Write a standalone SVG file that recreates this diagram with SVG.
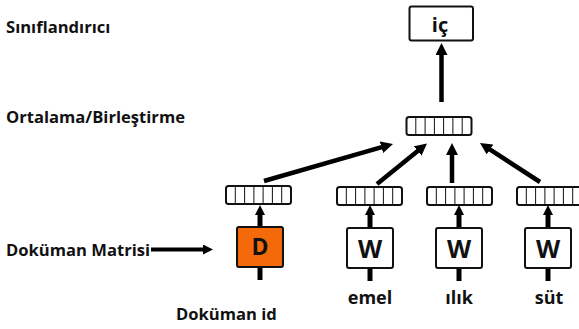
<svg xmlns="http://www.w3.org/2000/svg" xmlns:xlink="http://www.w3.org/1999/xlink" width="579" height="329" viewBox="0 0 579 329">
  <style>
    text { font-family: "Open Sans", "Noto Sans", "DejaVu Sans", sans-serif; font-weight: 700; fill: #111; }
    .label { font-size: 16.6px; }
    .word { font-size: 18px; text-anchor: middle; }
    .glyph { text-anchor: middle; }
    .box { fill: #fff; stroke: #111; stroke-width: 2; }
    .doc { fill: #f46a0a; }
    .cellframe { fill: #fff; stroke: #111; stroke-width: 2; }
    .cells { fill: none; stroke: #111; stroke-width: 1; }
    .arrow { fill: none; stroke: #000; stroke-width: 4.5; }
    .stub { fill: none; stroke: #000; stroke-width: 5; }
    .thin { fill: none; stroke: #000; stroke-width: 4; }
  </style>
  <defs>
    <marker id="head" markerUnits="userSpaceOnUse" markerWidth="12" markerHeight="12" refX="4" refY="6" orient="auto">
      <path d="M0,0 L12,6 L0,12 z" fill="#000"/>
    </marker>
    <marker id="headSmall" markerUnits="userSpaceOnUse" markerWidth="10" markerHeight="10" refX="3" refY="5" orient="auto">
      <path d="M0,0 L10,5 L0,10 z" fill="#000"/>
    </marker>
    <!-- seven-cell embedding vector -->
    <g id="vec">
      <rect class="cellframe" x="0" y="0" width="65" height="18" rx="2.5"/>
      <path class="cells" d="M9.3,0V18M18.6,0V18M27.9,0V18M37.1,0V18M46.4,0V18M55.7,0V18"/>
    </g>
  </defs>

  <!-- row labels -->
  <g id="labels">
    <text class="label" x="6" y="33">Sınıflandırıcı</text>
    <text class="label" x="6" y="122.5">Ortalama/Birleştirme</text>
    <text class="label" x="6" y="256">Doküman Matrisi</text>
    <text class="label" x="176" y="320">Doküman id</text>
  </g>

  <!-- connectors -->
  <g id="connectors">
    <line class="arrow" x1="441.5" y1="102" x2="441.5" y2="51" marker-end="url(#head)"/>
    <line class="arrow" x1="264" y1="181" x2="385.3" y2="146.2" marker-end="url(#head)"/>
    <line class="arrow" x1="377" y1="184" x2="420.8" y2="148.5" marker-end="url(#head)"/>
    <line class="arrow" x1="452" y1="183" x2="452" y2="151" marker-end="url(#head)"/>
    <line class="arrow" x1="540" y1="182" x2="486.7" y2="147.4" marker-end="url(#head)"/>

    <line class="stub" x1="260" y1="227" x2="260" y2="212" marker-end="url(#headSmall)"/>
    <line class="stub" x1="370" y1="228" x2="370" y2="212" marker-end="url(#headSmall)"/>
    <line class="stub" x1="459" y1="228" x2="459" y2="212" marker-end="url(#headSmall)"/>
    <line class="stub" x1="548" y1="228" x2="548" y2="212" marker-end="url(#headSmall)"/>

    <line class="stub" x1="260" y1="267" x2="260" y2="280"/>
    <line class="stub" x1="370" y1="268" x2="370" y2="281"/>
    <line class="stub" x1="459" y1="268" x2="459" y2="281"/>
    <line class="stub" x1="548" y1="268" x2="548" y2="281"/>

    <line class="thin" x1="151" y1="249.5" x2="206" y2="249.5" marker-end="url(#headSmall)"/>
  </g>

  <!-- classifier output -->
  <g id="output">
    <rect class="box" x="409.5" y="6.5" width="63.5" height="34" rx="2"/>
    <text class="glyph" x="440" y="31.5" font-size="20">iç</text>
  </g>

  <!-- pooled vector -->
  <g id="vec-pool"><use xlink:href="#vec" x="406.5" y="117"/></g>

  <!-- per-input vectors -->
  <g id="vec-doc"><use xlink:href="#vec" x="226" y="186"/></g>
  <g id="vec-emel"><use xlink:href="#vec" x="337" y="187"/></g>
  <g id="vec-ilik"><use xlink:href="#vec" x="427" y="187"/></g>
  <g id="vec-sut"><use xlink:href="#vec" x="517" y="187"/></g>

  <!-- lookup boxes -->
  <g id="box-doc">
    <rect class="box doc" x="237" y="227" width="46" height="40" rx="2"/>
    <text class="glyph" x="260" y="255" font-size="23">D</text>
  </g>
  <g id="box-emel">
    <rect class="box" x="347" y="228" width="46" height="40" rx="2"/>
    <text class="glyph" x="370" y="258" font-size="25">W</text>
  </g>
  <g id="box-ilik">
    <rect class="box" x="436" y="228" width="46" height="40" rx="2"/>
    <text class="glyph" x="459" y="258" font-size="25">W</text>
  </g>
  <g id="box-sut">
    <rect class="box" x="525" y="228" width="46" height="40" rx="2"/>
    <text class="glyph" x="548" y="258" font-size="25">W</text>
  </g>

  <!-- input words -->
  <g id="words">
    <text class="word" x="370" y="304">emel</text>
    <text class="word" x="459" y="304">ılık</text>
    <text class="word" x="549" y="304">süt</text>
  </g>
</svg>
